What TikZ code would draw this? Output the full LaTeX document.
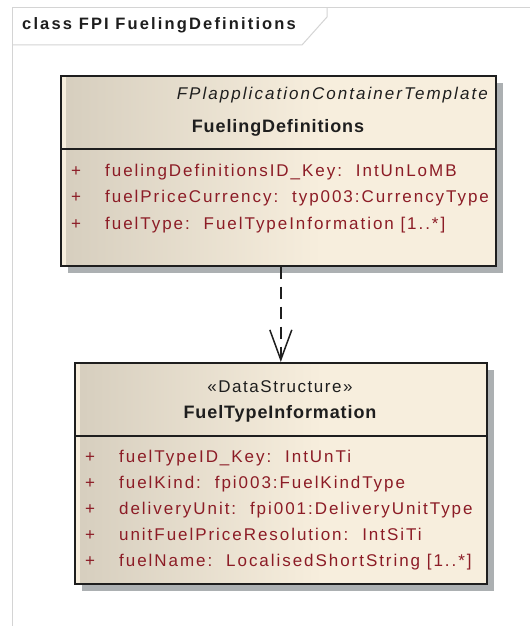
\documentclass[tikz,border=0pt]{standalone}
\usepackage{fontspec}
\setmainfont{Liberation Sans}
\usetikzlibrary{arrows.meta}
\definecolor{framec}{RGB}{212,212,212}
\definecolor{boxdark}{RGB}{214,206,190}
\definecolor{boxlight}{RGB}{247,238,221}
\definecolor{shadowc}{RGB}{172,176,178}
\definecolor{borderc}{RGB}{30,30,30}
\definecolor{attrc}{RGB}{140,28,38}
\definecolor{titlec}{RGB}{30,30,30}
\pgfdeclarehorizontalshading{umlbg}{100bp}{color(0bp)=(boxdark); color(25bp)=(boxdark); color(55bp)=(boxlight); color(100bp)=(boxlight)}
\newcommand{\attrfont}{\fontsize{17}{20}\selectfont\addfontfeatures{LetterSpace=11.5}}
\newcommand{\namefont}{\fontsize{18}{21}\selectfont\bfseries\addfontfeatures{LetterSpace=5}}
\newcommand{\stereofont}{\fontsize{17}{20}\selectfont\addfontfeatures{LetterSpace=9}}
\newcommand{\italfont}{\fontsize{17}{20}\selectfont\itshape\addfontfeatures{LetterSpace=12}}
\newcommand{\headfont}{\fontsize{16.5}{19}\selectfont\bfseries\addfontfeatures{LetterSpace=13}}
\newcommand{\cs}{:\hspace{5pt} }
\begin{document}
\begin{tikzpicture}[x=1pt,y=-1pt,
  umlbox/.style={draw=borderc, line width=1.6pt, shading=umlbg, inner sep=0pt, anchor=north west,
    preaction={fill=shadowc, transform canvas={shift={(7pt,-7pt)}}},
    path picture={\fill[boxlight] (path picture bounding box.north west) rectangle ([xshift=5pt]path picture bounding box.south west);}},
  divider/.style={draw=borderc, line width=1.6pt},
  attr/.style={anchor=base west, inner sep=0pt, text=attrc, font=\attrfont},
  plus/.style={anchor=base, inner sep=0pt, text=attrc, font=\attrfont},
  cname/.style={anchor=base, inner sep=0pt, text=titlec, font=\namefont},
  dep/.style={draw=borderc, line width=1.5pt, dash pattern=on 12pt off 8pt, -{Straight Barb[length=30pt,width=22pt,line width=1.5pt]}},
  framel/.style={draw=framec, line width=1pt}]
\useasboundingbox (0,0) rectangle (530,626);
\fill[white] (0,0) rectangle (530,626);
% frame
\draw[framel] (12,626) -- (12,8) -- (530,8);
\draw[framel] (12,45) -- (302,45) -- (327,17) -- (327,8);
\node[anchor=base west, inner sep=0pt, text=titlec, font=\headfont] (head) at (22,30) {class FPI FuelingDefinitions};
% top class
\node[umlbox, minimum width=435pt, minimum height=190pt] (fd) at (60,75) {};
\draw[divider] (fd.west |- 0,149) -- (fd.east |- 0,149);
\node[anchor=base east, inner sep=0pt, text=titlec, font=\italfont] (fdst) at (488,99.5) {FPlapplicationContainerTemplate};
\node[cname] (fdname) at (278,132) {FuelingDefinitions};
\node[plus] (p1) at (76,176) {+};
\node[attr] (a1) at (105,176) {fuelingDefinitionsID\_Key\cs IntUnLoMB};
\node[plus] (p2) at (76,202.5) {+};
\node[attr] (a2) at (105,202.5) {fuelPriceCurrency\cs typ003:CurrencyType};
\node[plus] (p3) at (76,229) {+};
\node[attr] (a3) at (105,229) {fuelType\cs FuelTypeInformation [1..*]};
% bottom class
\node[umlbox, minimum width=412pt, minimum height=221pt] (fti) at (74,362) {};
\draw[divider] (fti.west |- 0,436) -- (fti.east |- 0,436);
\node[anchor=base, inner sep=0pt, text=titlec, font=\stereofont] (ftist) at (280,392.5) {«DataStructure»};
\node[cname] (ftiname) at (280,418.5) {FuelTypeInformation};
\node[plus] (q1) at (90,462) {+};
\node[attr] (b1) at (119,462) {fuelTypeID\_Key\cs IntUnTi};
\node[plus] (q2) at (90,488) {+};
\node[attr] (b2) at (119,488) {fuelKind\cs fpi003:FuelKindType};
\node[plus] (q3) at (90,514) {+};
\node[attr] (b3) at (119,514) {deliveryUnit\cs fpi001:DeliveryUnitType};
\node[plus] (q4) at (90,540) {+};
\node[attr] (b4) at (119,540) {unitFuelPriceResolution\cs IntSiTi};
\node[plus] (q5) at (90,566.5) {+};
\node[attr] (b5) at (119,566.5) {fuelName\cs LocalisedShortString [1..*]};
% dependency
\draw[dep] (fti.north |- fd.south) -- (fti.north);
\end{tikzpicture}
\end{document}
